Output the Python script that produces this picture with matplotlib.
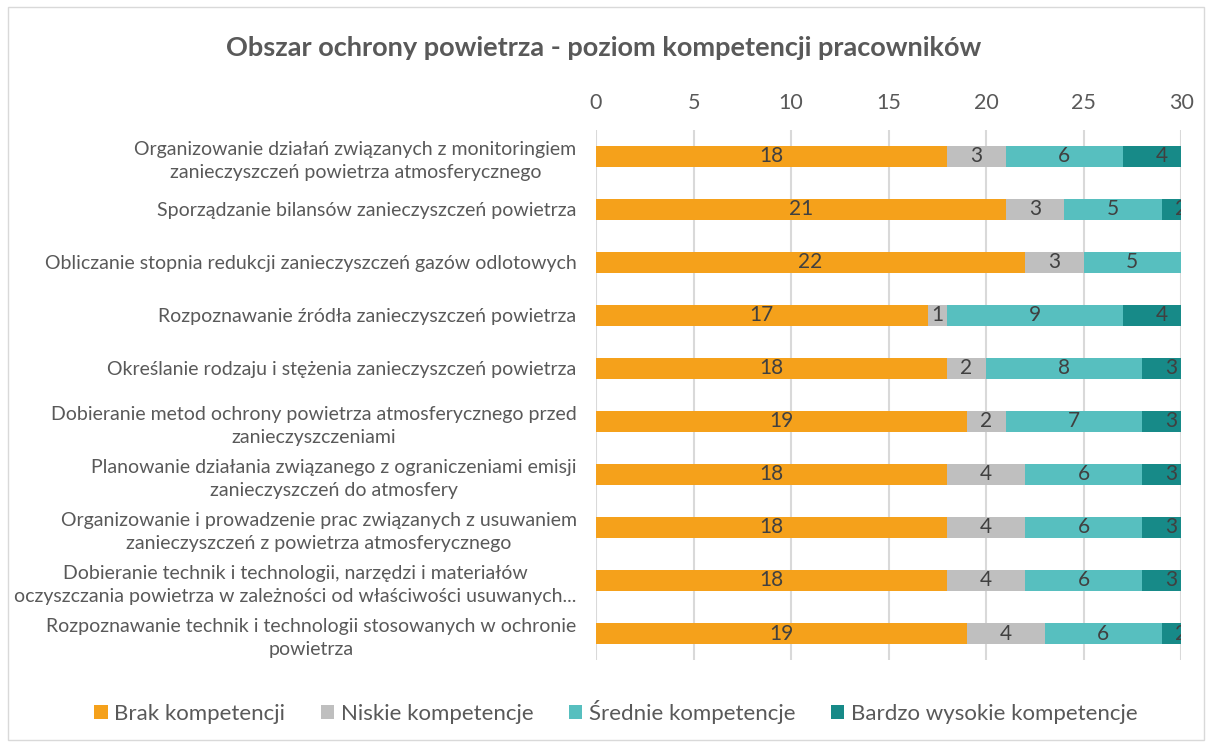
import matplotlib.pyplot as plt
from matplotlib.patches import Rectangle
import numpy as np

plt.rcParams['font.family'] = ['Lato', 'DejaVu Sans']

categories = [
    "Organizowanie działań związanych z monitoringiem\nzanieczyszczeń powietrza atmosferycznego",
    "Sporządzanie bilansów zanieczyszczeń powietrza",
    "Obliczanie stopnia redukcji zanieczyszczeń gazów odlotowych",
    "Rozpoznawanie źródła zanieczyszczeń powietrza",
    "Określanie rodzaju i stężenia zanieczyszczeń powietrza",
    "Dobieranie metod ochrony powietrza atmosferycznego przed\nzanieczyszczeniami",
    "Planowanie działania związanego z ograniczeniami emisji\nzanieczyszczeń do atmosfery",
    "Organizowanie i prowadzenie prac związanych z usuwaniem\nzanieczyszczeń z powietrza atmosferycznego",
    "Dobieranie technik i technologii, narzędzi i materiałów\noczyszczania powietrza w zależności od właściwości usuwanych...",
    "Rozpoznawanie technik i technologii stosowanych w ochronie\npowietrza",
]

series_names = ["Brak kompetencji", "Niskie kompetencje", "Średnie kompetencje",
                "Bardzo wysokie kompetencje"]
brak = [18, 21, 22, 17, 18, 19, 18, 18, 18, 19]
niskie = [3, 3, 3, 1, 2, 2, 4, 4, 4, 4]
srednie = [6, 5, 5, 9, 8, 7, 6, 6, 6, 6]
wysokie = [4, 2, 1, 4, 3, 3, 3, 3, 3, 2]

colors = ['#F5A11B', '#BFBFBF', '#57BFBF', '#178A88']
text_col = '#595959'

fig = plt.figure(figsize=(12.08, 7.44), dpi=100)
ax = fig.add_axes([0.4934, 0.1129, 0.4843, 0.7124])

y = np.arange(len(categories))
left = np.zeros(len(categories))
for vals, name, col in zip([brak, niskie, srednie, wysokie], series_names, colors):
    vals = np.array(vals, dtype=float)
    ax.barh(y, vals, left=left, height=0.4, color=col, label=name, zorder=2)
    for yi, l, v in zip(y, left, vals):
        t = ax.text(l + v / 2, yi, f"{int(v)}", ha='center', va='center',
                    fontsize=15, color='#404040', zorder=3)
        t.set_clip_on(True)
    left += vals

ax.set_xlim(0, 30)
ax.set_ylim(9.5, -0.5)
ax.set_xticks(range(0, 31, 5))
ax.xaxis.tick_top()
ax.tick_params(axis='x', length=0, labelsize=15.5, labelcolor=text_col, pad=12)
ax.set_yticks(y)
ax.set_yticklabels(categories, ha='right', multialignment='center', fontsize=14,
                   color=text_col, linespacing=1.45)
ax.tick_params(axis='y', length=0, pad=14)
ax.grid(axis='x', color='#D9D9D9', linewidth=1.5, zorder=0)
for s in ax.spines.values():
    s.set_visible(False)

fig.text(0.5, 0.935, "Obszar ochrony powietrza - poziom kompetencji pracowników",
         ha='center', va='center', fontsize=19.5, fontweight='bold', color=text_col)

fig.legend(loc='center', bbox_to_anchor=(0.51, 0.043), ncol=4, frameon=False,
           fontsize=16, handlelength=0.6, handleheight=0.6, columnspacing=1.6,
           handletextpad=0.3, labelcolor=text_col)

fig.patches.append(Rectangle((0.007, 0.005), 0.99, 0.985, transform=fig.transFigure,
                             fill=False, edgecolor='#D9D9D9', linewidth=1))

fig.savefig("out.png", dpi=100)
